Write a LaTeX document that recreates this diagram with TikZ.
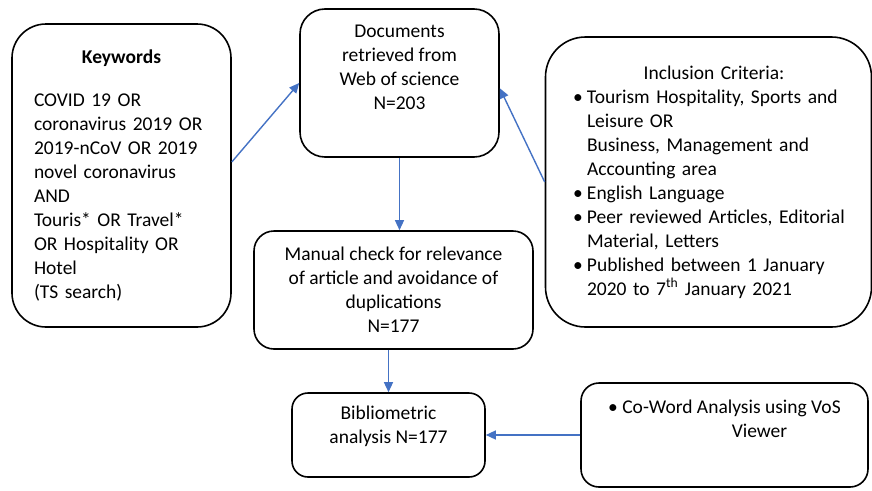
\documentclass[tikz,border=0pt]{standalone}
\usepackage{fontspec}
\setmainfont{Carlito}
\usetikzlibrary{arrows.meta, calc}
\definecolor{flowblue}{HTML}{4472C4}
\tikzset{
  stepbox/.style={rectangle, draw=black, line width=1.6pt, inner sep=0pt, font=\fontsize{19.5pt}{24pt}\selectfont},
  flow/.style={draw=flowblue, line width=1.4pt, -{Triangle[length=10pt,width=9pt]}}
}
\newcommand{\critem}[1]{\par\hangindent=14pt\hangafter=1\noindent\makebox[14pt][l]{\textbullet}#1\par}

\begin{document}
\begin{tikzpicture}[x=1pt, y=-1pt]
    \useasboundingbox (0,0) rectangle (872,490);

    % Palabras clave
    \node[stepbox, rounded corners=34pt, minimum width=219pt, minimum height=303pt, text width=175pt, align=left] (kw) at (121.5,175.5) {%
        \makebox[\linewidth]{\bfseries Keywords}\\[19pt]
        COVID 19 OR\\ coronavirus 2019 OR\\ 2019-nCoV OR 2019\\ novel coronavirus\\ AND\\
        Touris* OR Travel*\\ OR Hospitality OR\\ Hotel\\ (TS search)};

    % Documentos
    \node[stepbox, rounded corners=25pt, minimum width=199pt, minimum height=148pt, align=center] (docs) at (399.5,83) {Documents\\ retrieved from\\ Web of science\\ N=203\\[8pt]};

    % Criterios de inclusion
    \node[stepbox, rounded corners=40pt, minimum width=326pt, minimum height=290pt, text width=271pt, align=left] (incl) at (708.5,182) {%
        \makebox[\linewidth]{\hspace*{11pt}Inclusion Criteria:}
        \critem{\mbox{Tourism Hospitality, Sports and}\newline Leisure OR\newline \mbox{Business, Management and}\newline Accounting area}
        \critem{English Language}
        \critem{\mbox{Peer reviewed Articles, Editorial}\newline Material, Letters}
        \critem{\mbox{Published between 1 January}\newline \mbox{2020 to 7\textsuperscript{th} January 2021}}};

    % Revision manual
    \node[stepbox, rounded corners=20pt, minimum width=279pt, minimum height=118pt, align=center] (man) at (393.5,290) {Manual check for relevance\\ of article and avoidance of\\ duplications\\ N=177};

    % Analisis bibliometrico
    \node[stepbox, rounded corners=16pt, minimum width=193pt, minimum height=84pt, align=center] (bib) at (388.5,435) {Bibliometric\\ analysis N=177\\[-4pt]};

    % Co-Word
    \node[stepbox, rounded corners=18pt, minimum width=287pt, minimum height=104pt, align=center] (cow) at (724.5,435) {\textbullet\ Co-Word Analysis using VoS\\ \hspace*{70pt}Viewer\\[8pt]\mbox{}};

    % Flechas
    \draw[flow] (kw.7) -- (docs.west);
    \draw[flow] (incl.west) -- (docs.-3);
    \draw[flow] (docs.south) -- (docs.south |- man.north);
    \draw[flow] (bib.north |- man.south) -- (bib.north);
    \draw[flow] (cow.west) -- (bib.east);

\end{tikzpicture}
\end{document}
